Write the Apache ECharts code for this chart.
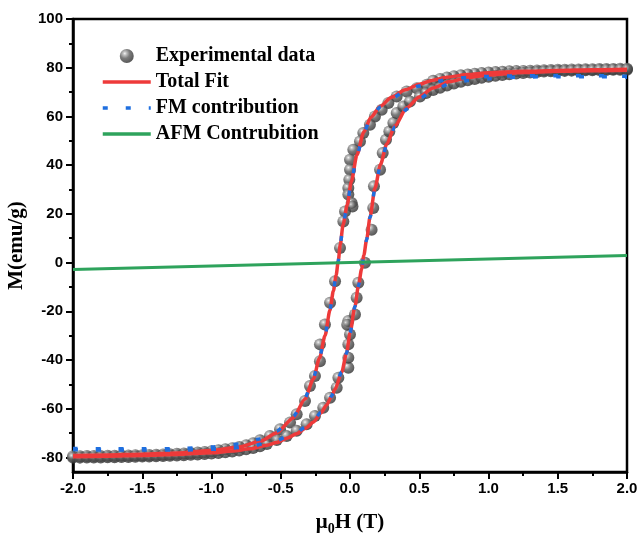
<!DOCTYPE html>
<html>
<head>
<meta charset="utf-8">
<title>M–H hysteresis loop</title>
<script src="https://cdn.jsdelivr.net/npm/echarts@6/dist/echarts.min.js"></script>
<style>
  html, body { margin: 0; padding: 0; background: #fff; }
  #chart { width: 638px; height: 537px; }
</style>
</head>
<body>
<div id="chart"></div>
<script>
// Axis ticks
const xTicks = [-2.0, -1.5, -1.0, -0.5, 0.0, 0.5, 1.0, 1.5, 2.0];
const yTicks = [-80, -60, -40, -20, 0, 20, 40, 60, 80, 100];
const yMinorTicks = [-70, -50, -30, -10, 10, 30, 50, 70, 90];

// Measured magnetization, field sweep +2 T -> -2 T  ([μ0H (T), M (emu/g)])
const expDown = [
  [2.0,79.6],[1.95,79.6],[1.9,79.5],[1.85,79.5],[1.8,79.5],[1.75,79.4],[1.7,79.4],[1.65,79.3],
  [1.6,79.3],[1.55,79.2],[1.5,79.2],[1.45,79.1],[1.4,79.0],[1.35,78.9],[1.3,78.8],[1.25,78.7],
  [1.2,78.6],[1.15,78.5],[1.1,78.3],[1.05,78.2],[1.0,78.0],[0.95,77.8],[0.9,77.5],[0.85,77.2],
  [0.8,76.9],[0.75,76.5],[0.7,76.0],[0.65,75.4],[0.6,74.6],
  [0.554,73.0],[0.482,71.6],[0.409,70.2],[0.337,68.2],[0.277,65.5],[0.229,62.7],[0.18,60.0],
  [0.144,56.6],[0.096,53.2],[0.072,49.7],[0.024,46.3],[0.0,42.2],[0.0,38.1],[-0.005,34.0],
  [-0.012,30.6],[-0.012,27.9],[0.012,24.5],[0.018,23.0],[-0.036,21.0],[-0.048,16.9],[-0.072,6.0],
  [-0.108,-7.7],[-0.144,-16.5],[-0.181,-25.4],[-0.217,-33.6],[-0.217,-40.5],[-0.253,-46.6],
  [-0.289,-50.7],[-0.325,-56.8],[-0.385,-62.3],[-0.433,-65.7],[-0.505,-68.4],[-0.578,-71.2],
  [-0.65,-73.0],[-0.7,-74.2],
  [-0.75,-75.0],[-0.8,-75.7],[-0.85,-76.2],[-0.9,-76.7],[-0.95,-77.1],[-1.0,-77.5],[-1.05,-77.8],
  [-1.1,-78.0],[-1.15,-78.2],[-1.2,-78.4],[-1.25,-78.5],[-1.3,-78.7],[-1.35,-78.8],[-1.4,-78.9],
  [-1.45,-79.0],[-1.5,-79.1],[-1.55,-79.1],[-1.6,-79.2],[-1.65,-79.2],[-1.7,-79.3],[-1.75,-79.3],
  [-1.8,-79.4],[-1.85,-79.4],[-1.9,-79.4],[-1.95,-79.5],[-2.0,-79.5]
];

// Measured magnetization, field sweep -2 T -> +2 T
const expUp = [
  [-2.0,-80.1],[-1.95,-80.1],[-1.9,-80.0],[-1.85,-80.0],[-1.8,-80.0],[-1.75,-79.9],[-1.7,-79.9],
  [-1.65,-79.8],[-1.6,-79.8],[-1.55,-79.7],[-1.5,-79.6],[-1.45,-79.6],[-1.4,-79.5],[-1.35,-79.4],
  [-1.3,-79.3],[-1.25,-79.2],[-1.2,-79.1],[-1.15,-78.9],[-1.1,-78.8],[-1.05,-78.6],[-1.0,-78.4],
  [-0.95,-78.2],[-0.9,-77.9],[-0.85,-77.6],[-0.8,-77.2],[-0.75,-76.7],[-0.7,-76.1],
  [-0.65,-75.4],[-0.6,-74.5],[-0.529,-72.9],[-0.457,-71.2],[-0.385,-69.1],[-0.313,-66.4],
  [-0.253,-63.0],[-0.193,-59.6],[-0.144,-55.5],[-0.096,-51.4],[-0.084,-47.3],[-0.012,-43.2],
  [-0.012,-39.1],[-0.012,-33.6],[0.0,-29.5],[-0.012,-24.0],[-0.02,-25.5],[0.036,-21.3],
  [0.048,-14.5],[0.06,-8.3],[0.108,-0.1],[0.156,13.5],[0.168,22.4],[0.173,31.3],[0.217,38.1],
  [0.236,45.0],[0.26,50.4],[0.284,53.8],[0.313,57.3],[0.337,61.4],[0.385,64.1],[0.433,66.1],
  [0.505,68.2],
  [0.55,69.6],[0.6,70.8],[0.65,71.8],[0.7,72.7],[0.75,73.5],[0.8,74.2],[0.85,74.8],[0.9,75.4],
  [0.95,75.9],[1.0,76.3],[1.05,76.7],[1.1,77.0],[1.15,77.3],[1.2,77.6],[1.25,77.8],[1.3,78.0],
  [1.35,78.2],[1.4,78.4],[1.45,78.5],[1.5,78.6],[1.55,78.7],[1.6,78.8],[1.65,78.9],[1.7,79.0],
  [1.75,79.0],[1.8,79.1],[1.85,79.1],[1.9,79.2],[1.95,79.2],[2.0,79.2]
];

// Total fit (FM + AFM), both sweep directions
const fitDown = [
  [2.0,79.4],[1.75,79.2],[1.5,78.9],[1.25,78.5],[1.0,77.9],[0.85,77.2],[0.7,76.1],[0.6,74.9],
  [0.5,73.2],[0.4,70.9],[0.3,67.9],[0.22,64.2],[0.15,59.6],[0.1,53.6],[0.05,44.2],[0.01,33.3],
  [-0.02,23.7],[-0.05,15.5],[-0.07,7.5],[-0.085,0.5],[-0.1,-5.2],[-0.12,-11.6],[-0.145,-19.6],
  [-0.18,-30.0],[-0.22,-39.2],[-0.265,-47.9],[-0.325,-56.0],[-0.41,-63.8],[-0.53,-70.0],
  [-0.65,-73.4],[-0.8,-75.7],[-1.0,-77.2],[-1.25,-78.2],[-1.5,-78.7],[-1.75,-79.0],[-2.0,-79.2]
];
const fitUp = [
  [-2.0,-79.7],[-1.75,-79.5],[-1.5,-79.2],[-1.25,-78.8],[-1.0,-78.1],[-0.85,-77.4],[-0.72,-76.5],
  [-0.6,-75.0],[-0.53,-73.9],[-0.45,-72.0],[-0.385,-70.3],[-0.32,-68.0],[-0.265,-65.6],
  [-0.21,-61.8],[-0.17,-58.6],[-0.135,-55.2],[-0.108,-52.0],[-0.06,-45.0],[-0.024,-37.0],
  [0.0,-28.9],[0.036,-18.0],[0.06,-9.8],[0.084,-2.6],[0.1,3.0],[0.12,9.5],[0.145,18.8],
  [0.18,30.5],[0.22,40.3],[0.265,48.6],[0.325,56.2],[0.41,63.6],[0.5,68.0],[0.6,71.7],
  [0.72,74.3],[0.85,75.9],[1.0,77.0],[1.25,78.0],[1.5,78.5],[1.75,78.8],[2.0,79.0]
];

// Ferromagnetic component
const fmDown = [
  [2.0,76.5],[1.75,76.7],[1.5,76.7],[1.25,76.7],[1.0,76.4],[0.85,76.0],[0.7,75.1],[0.6,74.0],
  [0.5,72.5],[0.4,70.3],[0.3,67.5],[0.22,63.9],[0.15,59.4],[0.1,53.5],[0.05,44.1],[0.01,33.3],
  [-0.02,23.7],[-0.05,15.6],[-0.07,7.6],[-0.085,0.6],[-0.1,-5.1],[-0.12,-11.4],[-0.145,-19.4],
  [-0.18,-29.7],[-0.22,-38.9],[-0.265,-47.5],[-0.325,-55.5],[-0.41,-63.2],[-0.53,-69.2],
  [-0.65,-72.5],[-0.8,-74.5],[-1.0,-75.7],[-1.25,-76.4],[-1.5,-76.5],[-1.75,-76.5],[-2.0,-76.3]
];
const fmUp = [
  [-2.0,-76.8],[-1.75,-77.0],[-1.5,-77.0],[-1.25,-77.0],[-1.0,-76.7],[-0.85,-76.2],[-0.72,-75.5],
  [-0.6,-74.1],[-0.53,-73.1],[-0.45,-71.3],[-0.385,-69.7],[-0.32,-67.5],[-0.265,-65.2],
  [-0.21,-61.5],[-0.17,-58.4],[-0.135,-55.0],[-0.108,-51.8],[-0.06,-44.9],[-0.024,-37.0],
  [0.0,-28.9],[0.036,-18.0],[0.06,-9.9],[0.084,-2.7],[0.1,2.9],[0.12,9.3],[0.145,18.6],
  [0.18,30.2],[0.22,40.0],[0.265,48.2],[0.325,55.7],[0.41,63.0],[0.5,67.3],[0.6,70.8],
  [0.72,73.3],[0.85,74.7],[1.0,75.5],[1.25,76.2],[1.5,76.3],[1.75,76.3],[2.0,76.1]
];

// Antiferromagnetic (linear) component
const afm = [[-2.0,-2.9],[2.0,2.9]];

const SERIF = "'Liberation Serif', 'Times New Roman', serif";
const SANS = "'Liberation Sans', Arial, sans-serif";

// Shaded ball marker
const sphere = {
  type: 'radial', x: 0.36, y: 0.32, r: 0.7,
  colorStops: [
    { offset: 0, color: '#f4f4f4' },
    { offset: 0.16, color: '#b5b5b5' },
    { offset: 0.5, color: '#5a5a5a' },
    { offset: 1, color: '#2e2e2e' }
  ]
};

const RED = '#ee3a3a', BLUE = '#1f6fdf', GREEN = '#2ea35c';

function fitLine(name, data, color, width, dash, z) {
  return {
    name, type: 'line', data, z,
    showSymbol: false, symbol: 'none',
    smooth: 0.25, smoothMonotone: 'x',
    lineStyle: { color, width, type: dash || 'solid' },
    itemStyle: { color },
    emphasis: { disabled: true }
  };
}

const chart = echarts.init(document.getElementById('chart'), null, { renderer: 'canvas' });
chart.setOption({
  animation: false,
  backgroundColor: '#fff',
  grid: {
    left: 73, right: 11, top: 19, bottom: 65,
    outerBoundsMode: 'none', containLabel: false,
    show: true, borderColor: '#000', borderWidth: 2.5, backgroundColor: 'transparent'
  },
  legend: {
    orient: 'vertical', left: 101, top: 46, padding: 0,
    itemWidth: 48, itemHeight: 14, itemGap: 6,
    selectedMode: false,
    lineStyle: { width: 3.5 },
    data: [
      { name: 'Experimental data', icon: 'circle' },
      { name: 'Total Fit', itemStyle: { opacity: 0 } },
      { name: 'FM contribution', itemStyle: { opacity: 0 } },
      { name: 'AFM Contrubition', itemStyle: { opacity: 0 } }
    ],
    textStyle: { fontFamily: SERIF, fontWeight: 'bold', fontSize: 20, color: '#000', lineHeight: 20 }
  },
  xAxis: {
    type: 'value', min: -2, max: 2, interval: 0.5,
    name: '{t|μ}{s|0}{t|H (T)}',
    nameLocation: 'middle', nameGap: 38,
    nameTextStyle: {
      rich: {
        t: { fontFamily: SERIF, fontWeight: 'bold', fontSize: 21, color: '#000', lineHeight: 26, verticalAlign: 'middle' },
        s: { fontFamily: SERIF, fontWeight: 'bold', fontSize: 14, color: '#000', lineHeight: 14, verticalAlign: 'bottom' }
      }
    },
    axisLine: { onZero: false, lineStyle: { color: '#000', width: 2.5 } },
    axisTick: { inside: false, length: 7, lineStyle: { color: '#000', width: 2 } },
    minorTick: { show: true, splitNumber: 2, length: 4, lineStyle: { color: '#000', width: 2 } },
    axisLabel: {
      margin: 9, color: '#000', fontFamily: SANS, fontWeight: 'bold', fontSize: 15,
      formatter: v => v.toFixed(1)
    },
    splitLine: { show: false }
  },
  yAxis: [
    {
      type: 'value', min: -86, max: 100, position: 'left',
      name: 'M(emu/g)', nameLocation: 'middle', nameGap: 42, nameRotate: 90,
      nameTextStyle: { fontFamily: SERIF, fontWeight: 'bold', fontSize: 21, color: '#000' },
      axisLine: { show: true, onZero: false, lineStyle: { color: '#000', width: 2.5 } },
      axisTick: { show: true, inside: false, length: 7, customValues: yTicks, lineStyle: { color: '#000', width: 2 } },
      axisLabel: { show: true, customValues: yTicks, margin: 10, color: '#000', fontFamily: SANS, fontWeight: 'bold', fontSize: 15 },
      splitLine: { show: false }
    },
    {
      type: 'value', min: -86, max: 100, position: 'left', offset: 0,
      axisLine: { show: false, onZero: false },
      axisTick: { show: true, inside: false, length: 4, customValues: yMinorTicks, lineStyle: { color: '#000', width: 2 } },
      axisLabel: { show: false },
      splitLine: { show: false }
    }
  ],
  series: [
    {
      name: 'Experimental data', type: 'scatter', data: expDown, z: 2,
      symbol: 'circle', symbolSize: 12, itemStyle: { color: sphere },
      emphasis: { disabled: true }
    },
    {
      name: 'Experimental data', type: 'scatter', data: expUp, z: 2,
      symbol: 'circle', symbolSize: 12, itemStyle: { color: sphere },
      emphasis: { disabled: true }
    },
    fitLine('Total Fit', fitDown, RED, 3.5, null, 3),
    fitLine('Total Fit', fitUp, RED, 3.5, null, 3),
    fitLine('FM contribution', fmDown, BLUE, 3.5, [5, 18], 4),
    fitLine('FM contribution', fmUp, BLUE, 3.5, [5, 18], 4),
    fitLine('AFM Contrubition', afm, GREEN, 3, null, 5)
  ]
});
</script>
</body>
</html>
